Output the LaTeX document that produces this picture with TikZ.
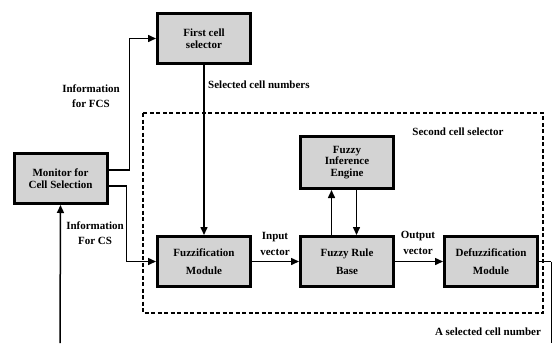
\documentclass[tikz,border=0pt]{standalone}
\usepackage{fontspec}
\setmainfont{Liberation Serif}
\definecolor{BoxGray}{HTML}{D3D3D3}
\usetikzlibrary{positioning,arrows.meta}

\begin{document}
\begin{tikzpicture}[x=1pt, y=-1pt,
    box/.style={draw, line width=3pt, fill=BoxGray, minimum width=93pt, minimum height=50pt,
      align=center, font=\bfseries\fontsize{11}{11.5}\selectfont},
    module/.style={box, font=\bfseries\fontsize{11}{18}\selectfont},
    lbl/.style={align=center, font=\bfseries\fontsize{11}{15.5}\selectfont, inner sep=0pt},
    conn/.style={line width=1.5pt, -{Stealth[inset=0pt, length=8pt, width=7pt]}}]
  \useasboundingbox (0,0) rectangle (553,343);
  % boxes
  \node[box] (monitor) at (60.5,178.5) {Monitor for\\Cell Selection};
  \node[box] (fcs) at (204,38.5) {First cell\\selector};
  \node[module, below=170pt of fcs] (fuzz) {Fuzzification\\Module};
  \node[module, right=47pt of fuzz] (frb) {Fuzzy Rule\\Base};
  \node[module, right=48pt of frb] (defuzz) {Defuzzification\\Module};
  \node[box, minimum height=52pt, above=45pt of frb] (fie) {Fuzzy\\Inference\\Engine};
  % second cell selector frame
  \draw[line width=1.4pt, dash pattern=on 4pt off 2.5pt] (143,113) rectangle (543,313);
  \node[lbl] (second) at (458,132) {Second cell selector};
  % free ends
  \coordinate (selout) at (551,343);
  \coordinate (monin) at (60,343);
  % connectors
  \draw[conn] ([yshift=8.5pt]monitor.east) -- ++(21,0) |- (fcs.west);
  \draw[conn] ([yshift=-7.5pt]monitor.east) -- ++(18,0) |- (fuzz.west);
  \draw[conn] (fcs.south) -- (fuzz.north);
  \draw[conn] (fuzz) -- (frb);
  \draw[conn] (frb) -- (defuzz);
  \draw[conn] ([xshift=-15.5pt]frb.north) -- ([xshift=-15.5pt]fie.south);
  \draw[conn] ([xshift=9.5pt]fie.south) -- ([xshift=9.5pt]frb.north);
  \draw[line width=1.5pt] (defuzz.east) -- (selout |- defuzz.east);
  \draw[line width=0.8pt] (selout |- defuzz.east) -- (selout);
  \draw[conn] (monin) -- (monitor.south);
  % labels
  \node[lbl] (infofcs) at (91,96) {Information\\for FCS};
  \node[lbl] (infocs) at (95,233) {Information\\For CS};
  \node[lbl, anchor=west] (selnums) at (208,85) {Selected cell numbers};
  \node[lbl] (invec) at (275,244) {Input\\vector};
  \node[lbl] (outvec) at (418,243) {Output\\vector};
  \node[lbl] (onecell) at (488,332) {A selected cell number};
\end{tikzpicture}
\end{document}
